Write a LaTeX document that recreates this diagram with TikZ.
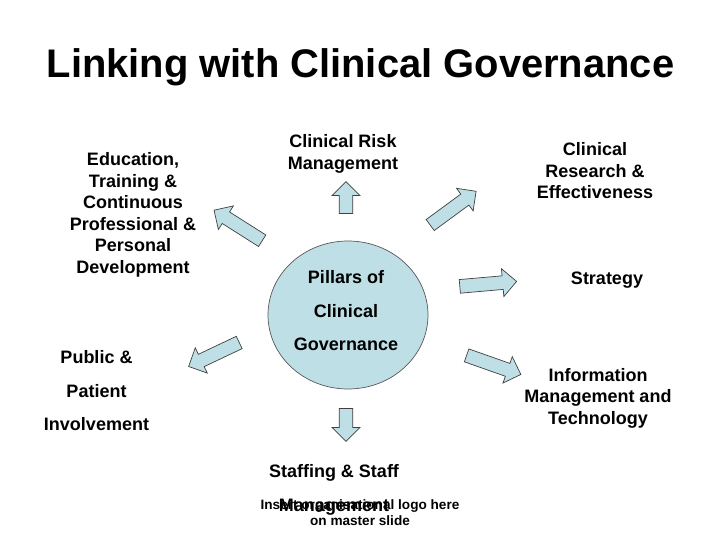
\documentclass[tikz,border=0pt]{standalone}
\usepackage{fontspec}
\setmainfont{Liberation Sans}
\usetikzlibrary{shapes.arrows}
\definecolor{pale}{RGB}{190,223,229}
\tikzset{
  blk/.style={single arrow, draw=black!75, fill=pale, line width=0.7bp,
    inner xsep=0pt, inner ysep=6.3bp, text height=0pt, text depth=0pt,
    minimum width=28bp, single arrow head extend=7bp, single arrow tip angle=90,
    single arrow head indent=0pt},
  lbl/.style={font=\bfseries\fontsize{18bp}{21.5bp}\selectfont, align=center, inner sep=0pt},
  wide/.style={font=\bfseries\fontsize{18bp}{33.5bp}\selectfont, align=center, inner sep=0pt},
}
\begin{document}
\begin{tikzpicture}[x=1bp,y=-1bp]
\useasboundingbox[fill=white] (0,0) rectangle (720,540);
\node[inner sep=0pt, font=\bfseries\fontsize{39.9bp}{45bp}\selectfont] (title) at (360.5,67) {Linking with Clinical Governance};
% centre
\draw[fill=pale, draw=black!65, line width=0.7bp] (348,315) ellipse [x radius=80, y radius=74];
\node[wide] (hub) at (346,311) {Pillars of\\Clinical\\Governance};
% arrows
\node[blk, minimum height=32bp, rotate=90] (a1) at (346,201) {};
\node[blk, minimum height=57bp, rotate=147.6] (a2) at (241,227.3) {};
\node[blk, minimum height=57bp, rotate=36.3] (a3) at (450.4,210.2) {};
\node[blk, minimum height=57bp, rotate=5] (a4) at (484.8,284.2) {};
\node[blk, minimum height=57.5bp, rotate=-19.4] (a5) at (490.5,363.8) {};
\node[blk, minimum height=56bp, rotate=205.4] (a6) at (217,353) {};
\node[blk, minimum height=33bp, rotate=-90] (a7) at (346,421.5) {};
% labels
\node[lbl] (crm) at (343,154) {Clinical Risk\\Management};
\node[lbl] (cre) at (595,171) {Clinical\\Research \&\\Effectiveness};
\node[lbl] (edu) at (133,215) {Education,\\Training \&\\Continuous\\Professional \&\\Personal\\Development};
\node[lbl] (str) at (607,280) {Strategy};
\node[wide] (ppi) at (96.5,391) {Public \&\\Patient\\Involvement};
\node[lbl] (imt) at (598,398) {Information\\Management and\\Technology};
\node[inner sep=0pt, align=center, font=\bfseries\fontsize{13.6bp}{16bp}\selectfont] (logo) at (360,513) {Insert organisational logo here\\on master slide};
\node[wide] (staff) at (334,490) {Staffing \& Staff\\Management};
\end{tikzpicture}
\end{document}
